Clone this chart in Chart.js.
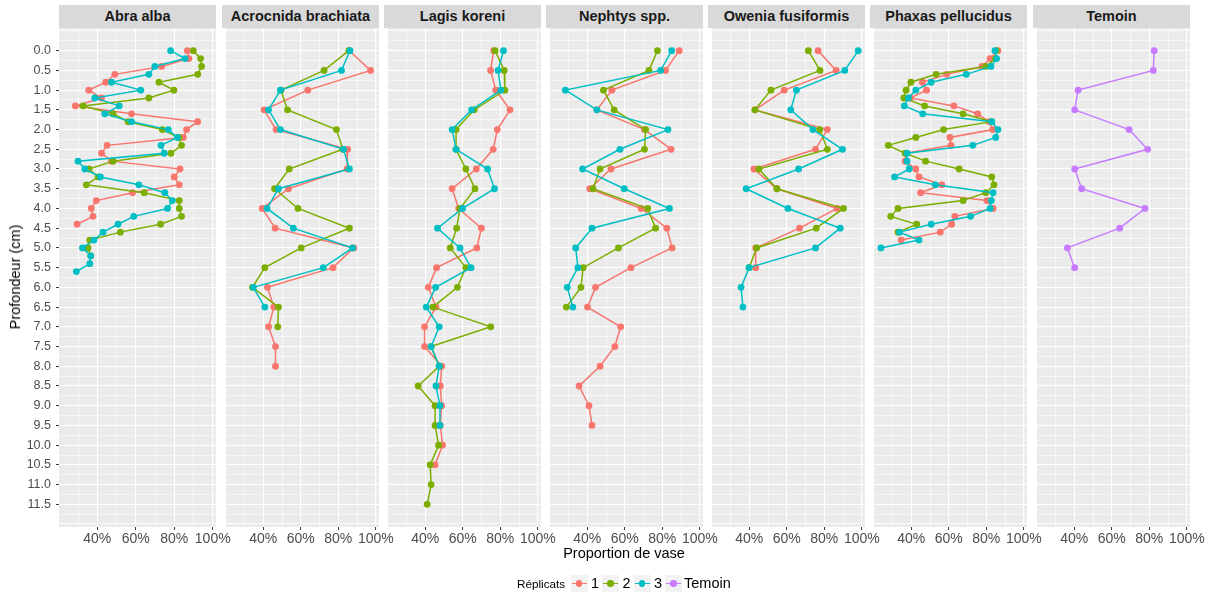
<!DOCTYPE html>
<html><head><meta charset="utf-8">
<script src="https://cdn.jsdelivr.net/npm/chart.js@4.4.1/dist/chart.umd.min.js"></script>
<style>
body{margin:0;background:#fff;width:1215px;height:596px;position:relative;overflow:hidden;font-family:"Liberation Sans",Arial,sans-serif;}
.strip{position:absolute;top:5px;height:23px;background:#D9D9D9;color:#1A1A1A;font-weight:bold;font-size:14.5px;line-height:23px;text-align:center;white-space:nowrap;}
canvas{position:absolute;}
.title{position:absolute;color:#000;font-size:14.5px;white-space:nowrap;}
.key{position:absolute;top:575px;width:17px;height:17px;background:#F2F2F2;}
.key .ln{position:absolute;left:1px;right:1px;top:7.75px;height:1.5px;}
.key .pt{position:absolute;left:5.3px;top:5.3px;width:6.4px;height:6.4px;border-radius:50%;}
.klab{position:absolute;top:574px;font-size:14.5px;color:#000;line-height:18px;}
</style></head><body>
<script>
// ---------- data ----------
const species = ["Abra alba","Acrocnida brachiata","Lagis koreni","Nephtys spp.","Owenia fusiformis","Phaxas pellucidus","Temoin"];
const replicates = ["1","2","3","Temoin"];
const repColors = ["#F8766D","#7CAE00","#00BFC4","#C77CFF"];

const depthFine = [0,0.2,0.4,0.6,0.8,1.0,1.2,1.4,1.6,1.8,2.0,2.2,2.4,2.6,2.8,3.0,3.2,3.4,3.6,3.8,4.0,4.2,4.4,4.6,4.8,5.0,5.2,5.4,5.6];
const depthCoarse = [0,0.5,1.0,1.5,2.0,2.5,3.0,3.5,4.0,4.5,5.0,5.5,6.0,6.5,7.0,7.5,8.0,8.5,9.0,9.5,10.0,10.5,11.0,11.5];

// Abra alba (0.2 cm steps)
const abra_1 = [86.8,87.6,73.4,49.1,44.4,35.6,42.2,28.6,57.8,92.2,86.4,84.7,45.1,42.2,47.4,83.0,80.0,82.6,58.3,39.5,36.9,37.8,29.5];
const abra_2 = [89.9,93.7,94.2,92.2,72.0,79.8,66.8,32.6,48.2,56.0,73.8,82.4,83.8,78.3,48.2,35.7,40.4,34.3,64.4,82.6,82.6,83.8,72.9,52.0,36.1,35.2,36.6];
const abra_3 = [78.1,85.6,69.9,66.8,47.4,62.6,38.7,51.4,43.9,57.8,76.9,81.6,73.1,74.8,30.0,33.5,41.6,61.6,75.1,79.0,76.5,59.0,50.8,43.0,38.3,32.3,36.6,36.1,29.1];
// Acrocnida brachiata (0.5 cm steps)
const acro_1 = [85.9,97.2,63.7,40.4,46.8,85.0,84.7,53.4,39.4,46.3,88.2,77.2,42.2,45.6,42.8,46.5,46.5];
const acro_2 = [85.6,72.4,49.4,52.9,79.0,82.4,53.8,46.0,58.5,85.9,60.2,40.8,34.2,48.1,47.7];
const acro_3 = [86.2,81.7,49.1,42.8,49.1,82.8,85.9,48.1,42.0,56.0,87.6,72.0,34.7,40.8];
// Lagis koreni
const lagis_1 = [76.5,74.8,77.6,85.2,78.4,76.2,67.2,54.3,57.8,69.9,67.5,46.0,41.6,45.7,39.6,39.6,48.7,48.0,48.7,48.0,49.2,45.2];
const lagis_2 = [77.2,82.1,82.4,66.1,56.4,56.4,61.6,66.5,58.5,56.7,53.3,61.6,57.1,44.0,74.9,43.1,47.4,36.2,45.2,45.2,47.1,42.6,43.1,41.0];
const lagis_3 = [81.7,78.8,80.3,64.7,54.3,56.4,73.2,76.9,59.9,46.5,58.5,64.4,45.5,40.5,47.4,43.1,47.4,45.7,47.8,47.8];
// Nephtys spp.
const neph_1 = [89.0,81.7,53.1,45.1,70.5,84.7,52.6,41.3,68.7,82.4,85.2,63.3,44.4,40.1,57.8,54.7,46.8,35.6,40.9,42.5];
const neph_2 = [77.4,72.9,48.6,54.3,71.1,70.5,46.8,43.0,72.2,76.4,56.6,37.8,36.6,28.8];
const neph_3 = [85.0,79.1,28.3,45.1,83.0,57.4,37.5,59.7,83.8,42.5,33.8,35.0,29.3,32.3];
// Owenia fusiformis
const owen_1 = [76.7,86.3,58.6,43.0,81.6,75.3,42.5,54.7,86.8,66.8,43.4,43.4];
const owen_2 = [71.5,77.7,51.5,43.0,77.6,81.6,45.1,54.7,90.2,75.7,43.9,39.9];
const owen_3 = [98.1,90.9,65.1,62.1,73.9,89.7,66.3,38.3,60.6,88.5,75.3,39.9,35.6,36.6];
// Phaxas pellucidus (0.2 cm steps)
const phax_1 = [86.2,82.0,77.7,58.9,45.9,48.1,39.5,62.7,75.4,81.5,83.4,60.6,61.2,37.2,36.7,42.4,44.1,56.3,45.0,80.3,83.6,63.2,61.5,55.4,34.6];
const phax_2 = [85.3,84.9,79.7,53.2,39.8,37.2,36.0,47.1,67.6,82.9,57.2,42.4,27.7,36.7,47.6,65.5,82.9,84.1,79.7,67.6,32.9,29.0,42.9,32.9];
const phax_3 = [84.6,85.5,82.5,69.3,50.6,42.4,38.4,36.3,46.1,82.9,86.2,85.0,72.8,37.7,37.7,38.9,31.1,52.8,83.6,82.7,82.0,71.6,50.6,33.7,44.1,23.8];
// Temoin
const temoin = [82.6,82.1,42.0,40.2,69.2,79.1,40.2,43.9,77.7,64.2,36.3,40.2];

// axis ticks
const xGrid = [30,40,50,60,70,80,90,100];
const xLabels = {40:"40%",60:"60%",80:"80%",100:"100%"};
const yGrid = [-0.5,-0.25,0,0.25,0.5,0.75,1,1.25,1.5,1.75,2,2.25,2.5,2.75,3,3.25,3.5,3.75,4,4.25,4.5,4.75,5,5.25,5.5,5.75,6,6.25,6.5,6.75,7,7.25,7.5,7.75,8,8.25,8.5,8.75,9,9.25,9.5,9.75,10,10.25,10.5,10.75,11,11.25,11.5,11.75,12];
const yLabels = ["0.0","0.5","1.0","1.5","2.0","2.5","3.0","3.5","4.0","4.5","5.0","5.5","6.0","6.5","7.0","7.5","8.0","8.5","9.0","9.5","10.0","10.5","11.0","11.5"];

// panels: [values arrays by replicate index, depth]
const panels = [
  [[abra_1,abra_2,abra_3,null], depthFine],
  [[acro_1,acro_2,acro_3,null], depthCoarse],
  [[lagis_1,lagis_2,lagis_3,null], depthCoarse],
  [[neph_1,neph_2,neph_3,null], depthCoarse],
  [[owen_1,owen_2,owen_3,null], depthCoarse],
  [[phax_1,phax_2,phax_3,null], depthFine],
  [[null,null,null,temoin], depthCoarse]
];

// ---------- layout ----------
const panelLeft = [59,222,384,546,708,870,1033];
const PW = 157, PT = 28, PH = 499;
const XMIN = 20.1, XMAX = 101.7, YMIN = -0.575, YMAX = 12.075;
const FONT = "'Liberation Sans', Arial, sans-serif";

const bgPlugin = {
  id:'bg',
  beforeDraw(chart){
    const a = chart.chartArea, c = chart.ctx;
    c.save(); c.fillStyle = '#EBEBEB'; c.fillRect(a.left, a.top, a.right-a.left, a.bottom-a.top); c.restore();
  }
};

function isMajorY(v){ return Math.abs(v*2 - Math.round(v*2)) < 1e-6; }
function yLabelFor(v){
  if (!isMajorY(v) || v < -1e-6 || v > 11.5+1e-6) return '';
  return yLabels[Math.round(v*2)];
}

species.forEach((name, i) => {
  const strip = document.createElement('div');
  strip.className = 'strip';
  strip.style.left = panelLeft[i] + 'px';
  strip.style.width = PW + 'px';
  strip.textContent = name;
  document.body.appendChild(strip);

  const L = i === 0 ? 59 : 0;
  const cv = document.createElement('canvas');
  const W = L + PW + 30, H = 15 + PH + 25;
  cv.width = W; cv.height = H;
  cv.style.width = W + 'px'; cv.style.height = H + 'px';
  cv.style.left = (panelLeft[i] - L) + 'px';
  cv.style.top = (PT - 15) + 'px';
  document.body.appendChild(cv);

  const [vals, depth] = panels[i];
  const datasets = [];
  vals.forEach((arr, r) => {
    if (!arr) return;
    datasets.push({
      label: replicates[r],
      data: arr.map((v, k) => ({x: v, y: depth[k]})),
      borderColor: repColors[r],
      backgroundColor: repColors[r],
      pointBackgroundColor: repColors[r],
      pointBorderWidth: 0,
      pointRadius: 3.4,
      borderWidth: 1.5,
      tension: 0,
      fill: false,
      order: 4 - r
    });
  });

  new Chart(cv, {
    type: 'line',
    data: {datasets},
    options: {
      responsive: false, animation: false, events: [], devicePixelRatio: 1,
      layout: {padding: {top: 15, right: 30, left: 0, bottom: 0}},
      plugins: {legend: {display: false}, tooltip: {enabled: false}},
      scales: {
        x: {
          type: 'linear', min: XMIN, max: XMAX,
          afterBuildTicks: ax => { ax.ticks = xGrid.map(v => ({value: v})); },
          afterFit: ax => { ax.height = 25; },
          border: {display: false},
          grid: {
            color: '#FFFFFF',
            lineWidth: ctx => (ctx.tick && xLabels[ctx.tick.value]) ? 1.1 : 0.55,
            drawTicks: true, tickLength: 3, tickWidth: 1,
            tickColor: ctx => (ctx.tick && xLabels[ctx.tick.value]) ? '#333333' : 'rgba(0,0,0,0)'
          },
          ticks: {
            autoSkip: false, maxRotation: 0, minRotation: 0, padding: 1,
            color: '#4D4D4D', font: {size: 14, family: FONT},
            callback: v => xLabels[v] || ''
          }
        },
        y: {
          type: 'linear', reverse: true, min: YMIN, max: YMAX,
          afterBuildTicks: ax => { ax.ticks = yGrid.map(v => ({value: v})); },
          afterFit: ax => { ax.width = L; },
          border: {display: false},
          grid: {
            color: '#FFFFFF',
            lineWidth: ctx => (ctx.tick && isMajorY(ctx.tick.value)) ? 1.1 : 0.55,
            drawTicks: i === 0, tickLength: 3, tickWidth: 1,
            tickColor: ctx => (ctx.tick && yLabelFor(ctx.tick.value) !== '') ? '#333333' : 'rgba(0,0,0,0)'
          },
          ticks: {
            display: i === 0, autoSkip: false, padding: 5,
            color: '#4D4D4D', font: {size: 12.5, family: FONT},
            callback: v => yLabelFor(v)
          }
        }
      }
    },
    plugins: [bgPlugin]
  });
});

// axis titles
const xt = document.createElement('div');
xt.className = 'title'; xt.textContent = 'Proportion de vase';
xt.style.left = '624px'; xt.style.top = '553px'; xt.style.transform = 'translate(-50%,-50%)';
document.body.appendChild(xt);
const yt = document.createElement('div');
yt.className = 'title'; yt.textContent = 'Profondeur (cm)';
yt.style.left = '15px'; yt.style.top = '277px'; yt.style.transform = 'translate(-50%,-50%) rotate(-90deg)';
document.body.appendChild(yt);

// legend
const lt = document.createElement('div');
lt.className = 'klab'; lt.textContent = 'Réplicats';
lt.style.left = '517px'; lt.style.fontSize = '11.7px'; lt.style.top = '575px';
document.body.appendChild(lt);
const keyX = [570.5, 602, 633.5, 665];
const labX = [591, 622.5, 654, 684];
replicates.forEach((r, k) => {
  const key = document.createElement('div');
  key.className = 'key'; key.style.left = keyX[k] + 'px';
  key.innerHTML = '<div class="ln" style="background:' + repColors[k] + '"></div><div class="pt" style="background:' + repColors[k] + '"></div>';
  document.body.appendChild(key);
  const lab = document.createElement('div');
  lab.className = 'klab'; lab.textContent = r; lab.style.left = labX[k] + 'px';
  document.body.appendChild(lab);
});
</script>
</body></html>
